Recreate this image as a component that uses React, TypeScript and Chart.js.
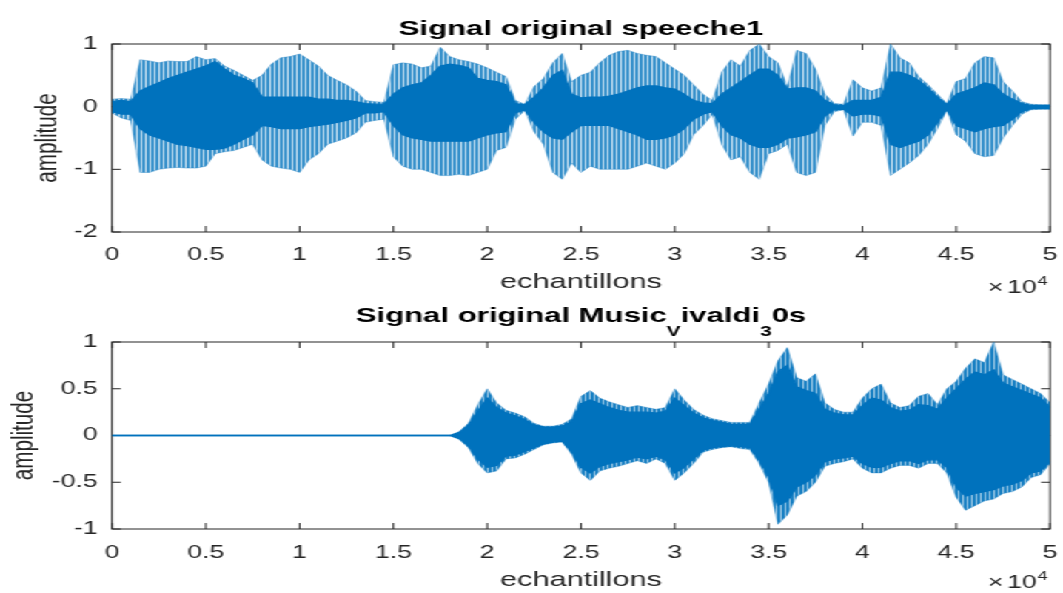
import { useEffect, useRef } from "react";
import { Chart, registerables } from "chart.js";

Chart.register(...registerables);

// ---------------------------------------------------------------------------
// Data: waveform envelopes, one value every SAMPLE_STEP samples (0 … 50 000).
// "peak" = outermost excursion of the signal, "core" = dense inner band.
// ---------------------------------------------------------------------------
const SAMPLE_STEP = 500;

const speechPeakHigh = [
  0.12, 0.13, 0.12, 0.75, 0.73, 0.70, 0.73, 0.72, 0.72, 0.80,
  0.75, 0.77, 0.65, 0.58, 0.50, 0.42, 0.50, 0.68, 0.78, 0.80,
  0.84, 0.75, 0.65, 0.50, 0.42, 0.35, 0.25, 0.10, 0.08, 0.07,
  0.67, 0.70, 0.68, 0.62, 0.65, 0.95, 0.80, 0.75, 0.72, 0.68,
  0.62, 0.55, 0.48, 0.10, 0.04, 0.32, 0.45, 0.70, 0.85, 0.40,
  0.50, 0.55, 0.70, 0.82, 0.88, 0.90, 0.85, 0.82, 0.80, 0.70,
  0.60, 0.50, 0.35, 0.20, 0.10, 0.55, 0.75, 0.65, 0.90, 1.00,
  0.80, 0.70, 0.32, 0.90, 0.85, 0.60, 0.20, 0.05, 0.04, 0.43,
  0.30, 0.25, 0.30, 1.00, 0.78, 0.70, 0.48, 0.35, 0.20, 0.05,
  0.40, 0.45, 0.70, 0.80, 0.78, 0.40, 0.25, 0.08, 0.04, 0.03,
  0.03,
];

const speechPeakLow = [
  -0.10, -0.18, -0.22, -1.05, -1.05, -1.00, -0.98, -0.97, -0.98, -0.98,
  -0.95, -0.75, -0.72, -0.70, -0.65, -0.60, -0.85, -0.95, -0.98, -1.00,
  -1.05, -0.85, -0.75, -0.60, -0.55, -0.50, -0.42, -0.25, -0.22, -0.20,
  -0.80, -0.95, -1.00, -1.00, -1.05, -1.10, -1.10, -1.08, -1.10, -1.05,
  -1.00, -0.70, -0.65, -0.20, -0.06, -0.40, -0.60, -1.05, -1.16, -0.90,
  -1.05, -0.95, -1.00, -1.00, -1.00, -1.00, -0.95, -0.90, -0.95, -1.00,
  -0.90, -0.75, -0.45, -0.30, -0.12, -0.60, -0.85, -0.80, -1.05, -1.16,
  -0.75, -0.70, -0.60, -1.05, -1.10, -1.05, -0.30, -0.08, -0.05, -0.47,
  -0.25, -0.25, -0.30, -1.10, -1.00, -0.90, -0.78, -0.60, -0.35, -0.06,
  -0.45, -0.55, -0.75, -0.80, -0.78, -0.50, -0.30, -0.12, -0.05, -0.04,
  -0.04,
];

const speechCoreHigh = [
  0.08, 0.10, 0.08, 0.25, 0.32, 0.38, 0.45, 0.50, 0.55, 0.60,
  0.65, 0.72, 0.60, 0.50, 0.45, 0.38, 0.15, 0.15, 0.15, 0.15,
  0.15, 0.15, 0.12, 0.12, 0.10, 0.10, 0.08, 0.05, 0.04, 0.04,
  0.20, 0.30, 0.35, 0.38, 0.50, 0.65, 0.68, 0.66, 0.62, 0.45,
  0.42, 0.40, 0.35, 0.05, 0.03, 0.15, 0.30, 0.50, 0.58, 0.20,
  0.14, 0.15, 0.15, 0.17, 0.20, 0.25, 0.30, 0.33, 0.33, 0.30,
  0.28, 0.20, 0.10, 0.06, 0.05, 0.20, 0.30, 0.40, 0.50, 0.60,
  0.60, 0.50, 0.28, 0.30, 0.30, 0.25, 0.10, 0.03, 0.02, 0.10,
  0.10, 0.10, 0.15, 0.55, 0.55, 0.50, 0.42, 0.30, 0.15, 0.03,
  0.20, 0.25, 0.30, 0.38, 0.35, 0.20, 0.12, 0.05, 0.02, 0.02,
  0.02,
];

const speechCoreLow = [
  -0.08, -0.12, -0.12, -0.35, -0.45, -0.50, -0.55, -0.60, -0.62, -0.65,
  -0.68, -0.68, -0.66, -0.60, -0.52, -0.45, -0.30, -0.32, -0.35, -0.35,
  -0.35, -0.32, -0.30, -0.28, -0.25, -0.22, -0.18, -0.10, -0.10, -0.08,
  -0.30, -0.45, -0.50, -0.52, -0.55, -0.55, -0.55, -0.55, -0.55, -0.50,
  -0.45, -0.42, -0.40, -0.10, -0.05, -0.25, -0.40, -0.50, -0.52, -0.40,
  -0.30, -0.30, -0.30, -0.30, -0.35, -0.40, -0.45, -0.52, -0.52, -0.50,
  -0.45, -0.35, -0.20, -0.12, -0.08, -0.30, -0.45, -0.50, -0.60, -0.65,
  -0.65, -0.60, -0.50, -0.48, -0.45, -0.40, -0.15, -0.05, -0.04, -0.15,
  -0.12, -0.12, -0.15, -0.60, -0.65, -0.60, -0.55, -0.45, -0.25, -0.04,
  -0.30, -0.35, -0.40, -0.35, -0.32, -0.30, -0.20, -0.08, -0.03, -0.03,
  -0.03,
];

const musicPeakHigh = [
  0, 0, 0, 0, 0, 0, 0, 0, 0, 0,
  0, 0, 0, 0, 0, 0, 0, 0, 0, 0,
  0, 0, 0, 0, 0, 0, 0, 0, 0, 0,
  0, 0, 0, 0, 0, 0, 0, 0.04, 0.13, 0.33,
  0.50, 0.35, 0.27, 0.24, 0.20, 0.13, 0.10, 0.10, 0.12, 0.18,
  0.42, 0.48, 0.40, 0.36, 0.33, 0.30, 0.32, 0.30, 0.28, 0.30,
  0.50, 0.38, 0.28, 0.22, 0.18, 0.16, 0.14, 0.14, 0.14, 0.35,
  0.55, 0.80, 0.94, 0.62, 0.58, 0.66, 0.35, 0.28, 0.25, 0.25,
  0.40, 0.50, 0.55, 0.35, 0.30, 0.32, 0.42, 0.45, 0.33, 0.50,
  0.58, 0.72, 0.82, 0.78, 1.00, 0.65, 0.60, 0.55, 0.50, 0.45,
  0.35,
];

const musicPeakLow = [
  0, 0, 0, 0, 0, 0, 0, 0, 0, 0,
  0, 0, 0, 0, 0, 0, 0, 0, 0, 0,
  0, 0, 0, 0, 0, 0, 0, 0, 0, 0,
  0, 0, 0, 0, 0, 0, 0, -0.04, -0.13, -0.30,
  -0.40, -0.38, -0.25, -0.24, -0.20, -0.15, -0.10, -0.08, -0.07, -0.20,
  -0.40, -0.48, -0.38, -0.35, -0.33, -0.30, -0.27, -0.30, -0.25, -0.30,
  -0.48, -0.40, -0.30, -0.18, -0.15, -0.13, -0.12, -0.14, -0.15, -0.30,
  -0.50, -0.95, -0.85, -0.65, -0.60, -0.50, -0.33, -0.30, -0.28, -0.25,
  -0.35, -0.40, -0.40, -0.35, -0.32, -0.32, -0.35, -0.30, -0.30, -0.40,
  -0.66, -0.80, -0.75, -0.70, -0.68, -0.62, -0.60, -0.55, -0.45, -0.42,
  -0.30,
];

const musicCoreHigh = [
  0, 0, 0, 0, 0, 0, 0, 0, 0, 0,
  0, 0, 0, 0, 0, 0, 0, 0, 0, 0,
  0, 0, 0, 0, 0, 0, 0, 0, 0, 0,
  0, 0, 0, 0, 0, 0, 0, 0.03, 0.11, 0.26,
  0.40, 0.30, 0.24, 0.21, 0.17, 0.11, 0.09, 0.09, 0.10, 0.15,
  0.34, 0.38, 0.34, 0.30, 0.27, 0.25, 0.25, 0.25, 0.24, 0.26,
  0.40, 0.32, 0.24, 0.19, 0.16, 0.14, 0.12, 0.12, 0.12, 0.28,
  0.45, 0.68, 0.75, 0.52, 0.48, 0.45, 0.28, 0.24, 0.22, 0.22,
  0.32, 0.40, 0.38, 0.30, 0.26, 0.27, 0.33, 0.32, 0.28, 0.40,
  0.50, 0.60, 0.68, 0.65, 0.70, 0.56, 0.52, 0.48, 0.44, 0.40,
  0.30,
];

const musicCoreLow = [
  0, 0, 0, 0, 0, 0, 0, 0, 0, 0,
  0, 0, 0, 0, 0, 0, 0, 0, 0, 0,
  0, 0, 0, 0, 0, 0, 0, 0, 0, 0,
  0, 0, 0, 0, 0, 0, 0, -0.03, -0.11, -0.25,
  -0.34, -0.32, -0.22, -0.21, -0.17, -0.13, -0.09, -0.07, -0.06, -0.17,
  -0.34, -0.40, -0.33, -0.30, -0.28, -0.26, -0.23, -0.25, -0.22, -0.26,
  -0.40, -0.34, -0.25, -0.16, -0.13, -0.12, -0.11, -0.12, -0.13, -0.26,
  -0.44, -0.75, -0.70, -0.55, -0.50, -0.42, -0.28, -0.25, -0.24, -0.22,
  -0.30, -0.34, -0.34, -0.30, -0.27, -0.27, -0.30, -0.26, -0.26, -0.34,
  -0.55, -0.65, -0.62, -0.60, -0.58, -0.54, -0.52, -0.48, -0.40, -0.38,
  -0.28,
];

// Axis ticks and their labels (x labels are in units of 10^4 samples).
const xTickValues = [0, 5000, 10000, 15000, 20000, 25000, 30000, 35000, 40000, 45000, 50000];
const xTickLabels = ["0", "0.5", "1", "1.5", "2", "2.5", "3", "3.5", "4", "4.5", "5"];
const speechYTicks = [-2, -1, 0, 1];
const speechYLabels = ["-2", "-1", "0", "1"];
const musicYTicks = [-1, -0.5, 0, 0.5, 1];
const musicYLabels = ["-1", "-0.5", "0", "0.5", "1"];

// Title pieces; "sub" pieces are set as subscripts.
type Run = { text: string; sub?: boolean };
const speechTitle: Run[] = [{ text: "Signal original speeche1" }];
const musicTitle: Run[] = [
  { text: "Signal original Music" },
  { text: "V", sub: true },
  { text: "ivaldi" },
  { text: "3", sub: true },
  { text: "0s" },
];

// ---------------------------------------------------------------------------
// Rendering constants. The figure is drawn on a narrower canvas which is then
// stretched horizontally, giving the wide lettering of the exported figure.
// ---------------------------------------------------------------------------
const PAGE_W = 1063;
const PAGE_H = 593;
const CANVAS_W = 718;
const STRETCH = PAGE_W / CANVAS_W;

const FONT = '"Liberation Sans", Arial, Helvetica, sans-serif';
const AXIS_COLOR = "#262626";
const LINE_BLUE = "rgb(0,114,189)";
const TICK_LEN = 6;

// Vertical hatch used for the sparse outer excursions of the waveform.
function makePeakPattern(strong: number, weak: number): CanvasPattern | string {
  const c = document.createElement("canvas");
  c.width = 3;
  c.height = 4;
  const g = c.getContext("2d");
  if (!g) return "rgba(0,114,189,0.55)";
  g.fillStyle = `rgba(0,114,189,${strong})`;
  g.fillRect(0, 0, 2, 4);
  g.fillStyle = `rgba(0,114,189,${weak})`;
  g.fillRect(2, 0, 1, 4);
  return g.createPattern(c, "repeat") || "rgba(0,114,189,0.55)";
}

// Box and inward tick marks on all four sides of the axes.
const framePlugin = {
  id: "axesFrame",
  beforeDatasetsDraw(chart: any) {
    const { ctx, chartArea: a, scales } = chart;
    const xs = scales.x;
    const ys = scales.y;
    ctx.save();
    ctx.strokeStyle = AXIS_COLOR;
    ctx.lineWidth = 1;
    ctx.strokeRect(a.left, a.top, a.right - a.left, a.bottom - a.top);
    ctx.beginPath();
    for (const t of xs.ticks) {
      const px = xs.getPixelForValue(t.value);
      ctx.moveTo(px, a.bottom);
      ctx.lineTo(px, a.bottom - TICK_LEN);
      ctx.moveTo(px, a.top);
      ctx.lineTo(px, a.top + TICK_LEN);
    }
    for (const t of ys.ticks) {
      const py = ys.getPixelForValue(t.value);
      ctx.moveTo(a.left, py);
      ctx.lineTo(a.left + TICK_LEN, py);
      ctx.moveTo(a.right, py);
      ctx.lineTo(a.right - TICK_LEN, py);
    }
    ctx.stroke();
    ctx.restore();
  },
};

type TextSpec = {
  runs: Run[];
  size: number;
  subSize: number;
  baseline: number;
  subBaseline: number;
  expBaseline: number;
  supBaseline: number;
};

// Bold title with TeX-like subscripts, plus the "×10^4" exponent label.
function makeTextPlugin(spec: TextSpec) {
  return {
    id: "figureText",
    afterDraw(chart: any) {
      const { ctx, chartArea: a } = chart;
      ctx.save();
      ctx.textBaseline = "alphabetic";
      ctx.textAlign = "left";

      const fontOf = (r: Run) => `bold ${r.sub ? spec.subSize : spec.size}px ${FONT}`;
      const widths = spec.runs.map((r) => {
        ctx.font = fontOf(r);
        return ctx.measureText(r.text).width;
      });
      const total = widths.reduce((s, w) => s + w, 0);
      let x = (a.left + a.right) / 2 - total / 2;
      ctx.fillStyle = "#000000";
      spec.runs.forEach((r, i) => {
        ctx.font = fontOf(r);
        ctx.fillText(r.text, x, r.sub ? spec.subBaseline : spec.baseline);
        x += widths[i];
      });

      // exponent label, right-aligned under the x axis
      ctx.fillStyle = AXIS_COLOR;
      const right = a.right - 1.5;
      ctx.font = `12.5px ${FONT}`;
      const wSup = ctx.measureText("4").width;
      ctx.font = `18px ${FONT}`;
      const wTen = ctx.measureText("10").width;
      const wTimes = ctx.measureText("\u00d7").width;
      const xSup = right - wSup;
      const xTen = xSup - wTen - 0.5;
      const xTimes = xTen - wTimes - 2.5;
      ctx.fillText("\u00d7", xTimes, spec.expBaseline);
      ctx.fillText("10", xTen, spec.expBaseline);
      ctx.font = `12.5px ${FONT}`;
      ctx.fillText("4", xSup, spec.supBaseline);
      ctx.restore();
    },
  };
}

const toPoints = (vals: number[]) => vals.map((y, i) => ({ x: i * SAMPLE_STEP, y }));

type PanelSpec = {
  height: number;
  plotTop: number;
  plotBottom: number;
  coreHigh: number[];
  coreLow: number[];
  peakHigh: number[];
  peakLow: number[];
  peakStrong: number;
  peakWeak: number;
  yMin: number;
  yMax: number;
  yLabels: string[];
  yTicks: number[];
  yTitlePad: number;
  xTickPad: number;
  xTitlePad: number;
  text: TextSpec;
};

function buildChart(canvas: HTMLCanvasElement, p: PanelSpec) {
  const yAxisWidth = 112 / STRETCH;
  const rightPad = CANVAS_W - 1050 / STRETCH;
  const peakFill = makePeakPattern(p.peakStrong, p.peakWeak);
  return new Chart(canvas, {
    type: "line",
    data: {
      datasets: [
        {
          data: toPoints(p.coreHigh),
          borderColor: LINE_BLUE,
          borderWidth: 1.3,
          backgroundColor: LINE_BLUE,
          fill: "+1",
          pointRadius: 0,
          tension: 0,
        },
        {
          data: toPoints(p.coreLow),
          borderColor: LINE_BLUE,
          borderWidth: 1.3,
          fill: false,
          pointRadius: 0,
          tension: 0,
        },
        {
          data: toPoints(p.peakHigh),
          borderColor: "rgba(0,114,189,0.45)",
          borderWidth: 0.8,
          backgroundColor: peakFill as any,
          fill: "+1",
          pointRadius: 0,
          tension: 0,
        },
        {
          data: toPoints(p.peakLow),
          borderColor: "rgba(0,114,189,0.45)",
          borderWidth: 0.8,
          fill: false,
          pointRadius: 0,
          tension: 0,
        },
      ],
    },
    options: {
      animation: false,
      responsive: false,
      events: [],
      layout: { padding: { left: 0, right: rightPad, top: p.plotTop, bottom: 0 } },
      plugins: {
        legend: { display: false },
        tooltip: { enabled: false },
        title: { display: false },
      },
      scales: {
        x: {
          type: "linear",
          min: 0,
          max: 50000,
          grid: { display: false, drawTicks: false },
          border: { display: false },
          afterBuildTicks: (scale: any) => {
            scale.ticks = xTickValues.map((v) => ({ value: v }));
          },
          afterFit: (scale: any) => {
            scale.height = p.height - p.plotBottom;
            scale.paddingLeft = 0;
            scale.paddingRight = 0;
          },
          ticks: {
            autoSkip: false,
            maxRotation: 0,
            padding: p.xTickPad,
            color: AXIS_COLOR,
            font: { family: FONT, size: 18 },
            callback: (_v: any, i: number) => xTickLabels[i],
          },
          title: {
            display: true,
            text: "echantillons",
            color: AXIS_COLOR,
            font: { family: FONT, size: 20.7, lineHeight: 1.2 },
            padding: { top: 0, bottom: p.xTitlePad },
          },
        },
        y: {
          type: "linear",
          min: p.yMin,
          max: p.yMax,
          grid: { display: false, drawTicks: false },
          border: { display: false },
          afterBuildTicks: (scale: any) => {
            scale.ticks = p.yTicks.map((v) => ({ value: v }));
          },
          afterFit: (scale: any) => {
            scale.width = yAxisWidth;
            scale.paddingTop = 0;
            scale.paddingBottom = 0;
          },
          ticks: {
            autoSkip: false,
            padding: 9.6,
            color: AXIS_COLOR,
            font: { family: FONT, size: 18 },
            callback: (_v: any, i: number) => p.yLabels[i],
          },
          title: {
            display: true,
            text: "amplitude",
            color: AXIS_COLOR,
            font: { family: FONT, size: 20.7, lineHeight: 1.2 },
            padding: { top: p.yTitlePad, bottom: 0 },
          },
        },
      },
    },
    plugins: [framePlugin, makeTextPlugin(p.text)],
  });
}

const SPEECH_H = 296;
const MUSIC_H = PAGE_H - SPEECH_H;

export default function App() {
  const speechRef = useRef<HTMLCanvasElement>(null);
  const musicRef = useRef<HTMLCanvasElement>(null);

  useEffect(() => {
    const charts: Chart[] = [];
    if (speechRef.current) {
      charts.push(
        buildChart(speechRef.current, {
          height: SPEECH_H,
          plotTop: 44,
          plotBottom: 232,
          coreHigh: speechCoreHigh,
          coreLow: speechCoreLow,
          peakHigh: speechPeakHigh,
          peakLow: speechPeakLow,
          peakStrong: 0.78,
          peakWeak: 0.22,
          yMin: -2,
          yMax: 1,
          yLabels: speechYLabels,
          yTicks: speechYTicks,
          yTitlePad: 19.7,
          xTickPad: 12,
          xTitlePad: 1,
          text: {
            runs: speechTitle,
            size: 21,
            subSize: 14,
            baseline: 35,
            subBaseline: 49,
            expBaseline: 293,
            supBaseline: 285,
          },
        })
      );
    }
    if (musicRef.current) {
      charts.push(
        buildChart(musicRef.current, {
          height: MUSIC_H,
          plotTop: 46,
          plotBottom: 233,
          coreHigh: musicCoreHigh,
          coreLow: musicCoreLow,
          peakHigh: musicPeakHigh,
          peakLow: musicPeakLow,
          peakStrong: 0.9,
          peakWeak: 0.4,
          yMin: -1,
          yMax: 1,
          yLabels: musicYLabels,
          yTicks: musicYTicks,
          yTitlePad: 3.5,
          xTickPad: 13,
          xTitlePad: 0,
          text: {
            runs: musicTitle,
            size: 21,
            subSize: 14,
            baseline: 26,
            subBaseline: 40,
            expBaseline: 292,
            supBaseline: 284,
          },
        })
      );
    }
    return () => charts.forEach((c) => c.destroy());
  }, []);

  return (
    <div
      style={{
        position: "absolute",
        left: 0,
        top: 0,
        width: PAGE_W,
        height: PAGE_H,
        overflow: "hidden",
        background: "#ffffff",
      }}
    >
      <div
        style={{
          position: "absolute",
          left: 0,
          top: 0,
          width: CANVAS_W,
          height: PAGE_H,
          transform: `scaleX(${STRETCH})`,
          transformOrigin: "0 0",
        }}
      >
        <canvas
          ref={speechRef}
          width={CANVAS_W}
          height={SPEECH_H}
          style={{ position: "absolute", left: 0, top: 0 }}
        />
        <canvas
          ref={musicRef}
          width={CANVAS_W}
          height={MUSIC_H}
          style={{ position: "absolute", left: 0, top: SPEECH_H }}
        />
      </div>
    </div>
  );
}
